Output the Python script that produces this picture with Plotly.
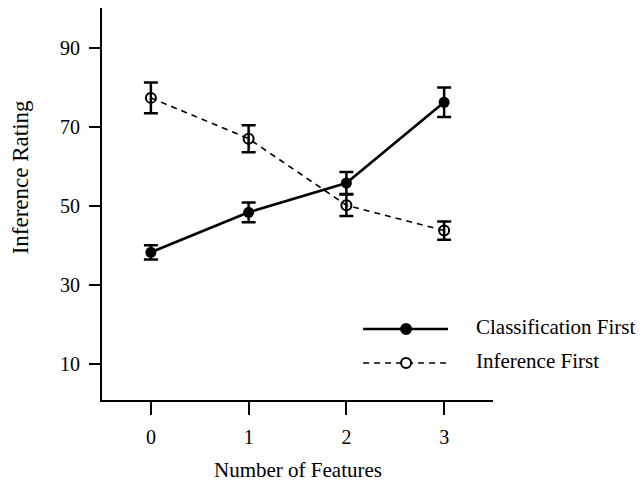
import plotly.graph_objects as go

features = [0, 1, 2, 3]
class_first = [38.3, 48.4, 55.8, 76.2]
class_err = [1.8, 2.5, 2.8, 3.7]
infer_first = [77.3, 67.0, 50.2, 43.8]
infer_err = [3.9, 3.4, 2.7, 2.3]
y_ticks = [10, 30, 50, 70, 90]
x_ticks = [0, 1, 2, 3]

FONT = "Liberation Serif"
OFF = 8  # page body margin

# plot area in page pixels
PL, PR, PT, PB = 101.7, 493.0, 8.0, 400.0

fig = go.Figure()
fig.add_trace(go.Scatter(
    x=features, y=infer_first, mode="lines+markers", name="Inference First",
    line=dict(color="black", width=1.6, dash="6px,5px"),
    marker=dict(symbol="circle-open", size=10, color="black", line=dict(width=2)),
    error_y=dict(type="data", array=infer_err, color="black", thickness=2.5, width=7),
))
fig.add_trace(go.Scatter(
    x=features, y=class_first, mode="lines+markers", name="Classification First",
    line=dict(color="black", width=2.6),
    marker=dict(symbol="circle", size=11, color="black"),
    error_y=dict(type="data", array=class_err, color="black", thickness=2.5, width=7),
))

def px2x(px):
    return (px - PL) / (PR - PL)

def py2y(py):
    return (PB - py) / (PB - PT)

shapes = []
annotations = []
legend_rows = [("Classification First", 329, 327, "solid", 2.6, True),
               ("Inference First", 363, 361, "dash", 1.6, False)]
for label, py, ty, dash, w, filled in legend_rows:
    shapes.append(dict(type="line", xref="paper", yref="paper",
                       x0=px2x(363), x1=px2x(448), y0=py2y(py), y1=py2y(py),
                       line=dict(color="black", width=w, dash=dash if dash == "solid" else "6px,5px")))
    shapes.append(dict(type="circle", xref="paper", yref="paper",
                       xsizemode="pixel", ysizemode="pixel",
                       xanchor=px2x(406), yanchor=py2y(py),
                       x0=-5, x1=5, y0=-5, y1=5,
                       fillcolor="black" if filled else "white",
                       line=dict(color="black", width=2)))
    annotations.append(dict(text=label, xref="paper", yref="paper",
                            x=px2x(474), y=py2y(ty), xanchor="left", yanchor="middle",
                            showarrow=False, font=dict(family=FONT, size=21, color="black")))

annotations.append(dict(text="Inference Rating", xref="paper", yref="paper",
                        x=px2x(20), y=py2y(177), xanchor="center", yanchor="middle",
                        textangle=-90, showarrow=False,
                        font=dict(family=FONT, size=23, color="black")))
annotations.append(dict(text="Number of Features", xref="paper", yref="paper",
                        x=px2x(298), y=py2y(470), xanchor="center", yanchor="middle",
                        showarrow=False, font=dict(family=FONT, size=21, color="black")))

W, H = 644 - OFF, 486 - OFF
fig.update_layout(
    width=W, height=H,
    margin=dict(l=PL - OFF, r=W - (PR - OFF), t=PT - OFF, b=H - (PB - OFF), pad=0),
    paper_bgcolor="white", plot_bgcolor="white",
    showlegend=False,
    font=dict(family=FONT, size=20, color="black"),
    shapes=shapes, annotations=annotations,
    xaxis=dict(range=[-0.5, 3.5], tickvals=x_ticks, ticks="outside", ticklen=13,
               tickwidth=2, tickcolor="black", showline=True, linecolor="black",
               linewidth=2, showgrid=False, zeroline=False, ticklabelstandoff=5,
               tickfont=dict(family=FONT, size=20)),
    yaxis=dict(range=[1, 100], tickvals=y_ticks, ticks="outside", ticklen=11,
               tickwidth=2, tickcolor="black", showline=True, linecolor="black",
               linewidth=2, showgrid=False, zeroline=False, ticklabelstandoff=5,
               tickfont=dict(family=FONT, size=20)),
)
fig.write_html("out.html")
